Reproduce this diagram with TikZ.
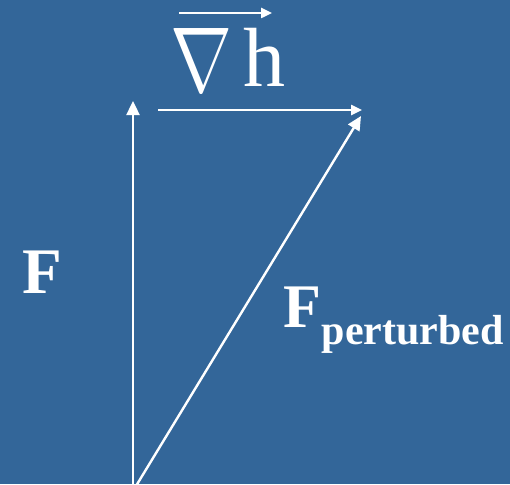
\documentclass[tikz,border=0pt]{standalone}
\usepackage{fontspec}
\setmainfont{Liberation Serif}
\usetikzlibrary{arrows.meta}
\definecolor{bg}{RGB}{51,102,153}
\tikzset{
  vec/.style={draw=white, line width=2.4pt, -{Triangle[width=13pt,length=14pt]}},
  smallvec/.style={draw=white, line width=2.4pt, -{Triangle[width=10pt,length=11pt]}},
  lbl/.style={text=white, inner sep=0pt, outer sep=0pt, anchor=base west},
}
\begin{document}
\begin{tikzpicture}[x=1pt,y=-1pt]
\fill[bg] (0,0) rectangle (510,484);
\useasboundingbox (0,0) rectangle (510,484);
% points
\coordinate (O) at (133,486);
\coordinate (Otwo) at (136,486);
\coordinate (A) at (133,101);
\coordinate (Hs) at (158,110);
\coordinate (He) at (362,110);
\coordinate (D) at (361,116);
\coordinate (Ns) at (179,13);
\coordinate (Ne) at (272,13);
% vectors
\draw[vec] (O) -- (A);
\draw[smallvec] (Hs) -- (He);
\draw[vec] (Otwo) -- (D);
\draw[smallvec] (Ns) -- (Ne);
% labels
\node[lbl] (F) at (22,293) {\fontsize{65}{65}\selectfont\bfseries F};
\node[lbl] (Fp) at (283,327) {\bfseries{\fontsize{62}{62}\selectfont F}\hspace{1pt}\raisebox{-17pt}{\fontsize{42}{42}\selectfont perturbed}};
\node[lbl] (grad) at (170,87) {\raisebox{-5pt}{\resizebox{62pt}{63pt}{$\nabla$}}\hspace{11pt}{\fontsize{84}{84}\selectfont h}};
\end{tikzpicture}
\end{document}
